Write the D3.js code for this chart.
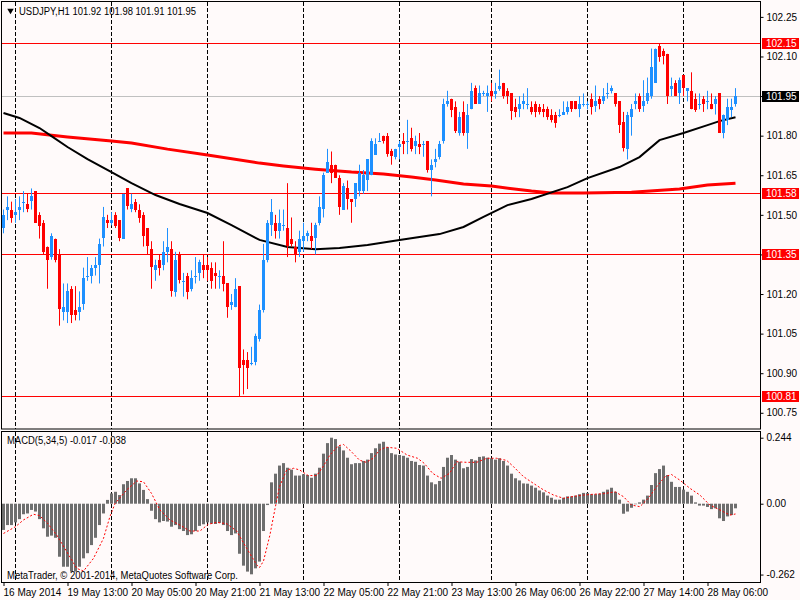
<!DOCTYPE html>
<html>
<head>
<meta charset="utf-8">
<script src="https://cdn.jsdelivr.net/npm/d3@7"></script>
<style>
  body { margin: 0; background: #fffafa; }
  svg { display: block; font-family: "Liberation Sans", Arial, sans-serif; font-size: 10px; }
</style>
</head>
<body>
<script>
// USDJPY H1 candles (bar 0 = 16 May 2014, last bar = 28 May 13:00)
const opens = [101.45,101.52,101.52,101.50,101.52,101.55,101.54,101.55,101.59,101.50,
  101.47,101.38,101.34,101.41,101.35,101.13,101.13,101.22,101.14,101.13,
  101.16,101.27,101.27,101.30,101.31,101.41,101.48,101.47,101.50,101.48,
  101.41,101.60,101.52,101.55,101.52,101.50,101.45,101.37,101.29,101.33,
  101.31,101.36,101.37,101.21,101.35,101.25,101.27,101.22,101.27,101.28,
  101.31,101.31,101.30,101.28,101.27,101.27,101.24,101.16,101.15,101.23,
  100.95,100.95,100.94,100.94,101.03,101.14,101.33,101.46,101.47,101.44,
  101.46,101.45,101.41,101.38,101.36,101.40,101.42,101.42,101.41,101.47,
  101.52,101.66,101.69,101.69,101.64,101.52,101.60,101.56,101.56,101.59,
  101.59,101.63,101.65,101.73,101.78,101.80,101.80,101.74,101.72,101.76,
  101.78,101.78,101.79,101.76,101.77,101.77,101.78,101.67,101.70,101.72,
  101.78,101.92,101.94,101.91,101.81,101.89,101.81,101.90,101.98,101.92,
  101.96,101.95,101.97,101.96,101.98,102.00,101.97,101.96,101.91,101.90,
  101.92,101.92,101.91,101.92,101.91,101.90,101.90,101.88,101.88,101.88,
  101.88,101.89,101.93,101.93,101.90,101.92,101.92,101.94,101.91,101.94,
  101.93,101.96,101.97,101.96,101.93,101.85,101.75,101.87,101.92,101.95,
  101.91,101.93,101.95,102.00,102.14,102.12,102.11,101.98,102.00,101.96,
  102.03,101.97,101.97,101.94,101.92,101.94,101.93,101.92,101.92,101.96,
  101.81,101.86,101.90,101.92];
const highs = [101.52,101.57,101.55,101.56,101.57,101.59,101.58,101.60,101.59,101.51,
  101.48,101.38,101.43,101.41,101.37,101.24,101.24,101.23,101.23,101.21,
  101.30,101.34,101.31,101.34,101.41,101.53,101.50,101.51,101.51,101.48,
  101.58,101.60,101.58,101.56,101.54,101.51,101.45,101.40,101.33,101.35,
  101.40,101.45,101.40,101.36,101.36,101.28,101.28,101.29,101.34,101.33,
  101.35,101.34,101.32,101.32,101.29,101.40,101.24,101.20,101.26,101.23,
  100.99,100.98,101.00,101.05,101.16,101.39,101.48,101.56,101.50,101.52,
  101.52,101.62,101.49,101.40,101.44,101.47,101.44,101.47,101.47,101.57,
  101.66,101.75,101.74,101.69,101.65,101.62,101.63,101.56,101.62,101.69,
  101.67,101.71,101.79,101.79,101.81,101.80,101.81,101.75,101.75,101.78,
  101.81,101.86,101.83,101.80,101.81,101.78,101.78,101.71,101.75,101.78,
  101.94,101.97,101.94,101.93,101.89,101.93,101.92,102.00,101.99,101.99,
  101.97,101.99,102.00,102.00,102.05,102.00,101.98,101.96,101.94,101.95,
  101.96,101.98,101.93,101.93,101.92,101.92,101.91,101.90,101.89,101.90,
  101.93,101.93,101.93,101.93,101.95,101.96,101.93,101.96,101.99,101.95,
  101.98,102.00,101.99,101.96,101.93,101.89,101.89,101.92,101.96,101.96,
  102.01,102.02,102.13,102.13,102.15,102.13,102.11,102.02,102.01,102.02,
  102.03,101.98,102.04,101.96,101.96,101.95,101.97,101.96,101.95,101.96,
  101.88,101.94,101.94,101.98];
const lows = [101.43,101.48,101.47,101.47,101.48,101.51,101.51,101.52,101.47,101.41,
  101.35,101.22,101.33,101.32,101.08,101.10,101.09,101.09,101.10,101.10,
  101.14,101.25,101.24,101.27,101.24,101.38,101.45,101.46,101.45,101.40,
  101.41,101.52,101.51,101.51,101.47,101.38,101.35,101.22,101.25,101.27,
  101.29,101.32,101.19,101.19,101.24,101.19,101.18,101.21,101.24,101.25,
  101.26,101.25,101.22,101.22,101.22,101.21,101.11,101.14,101.15,100.81,
  100.82,100.84,100.93,100.93,101.02,101.13,101.32,101.42,101.41,101.41,
  101.44,101.34,101.38,101.32,101.34,101.36,101.40,101.37,101.35,101.46,
  101.49,101.66,101.62,101.64,101.50,101.52,101.52,101.47,101.53,101.57,
  101.58,101.59,101.65,101.73,101.78,101.77,101.72,101.69,101.71,101.71,
  101.73,101.73,101.74,101.73,101.73,101.72,101.66,101.57,101.68,101.71,
  101.77,101.91,101.87,101.81,101.80,101.80,101.75,101.90,101.92,101.92,
  101.95,101.89,101.93,101.94,101.97,101.94,101.92,101.86,101.87,101.87,
  101.90,101.90,101.88,101.87,101.88,101.87,101.86,101.85,101.83,101.87,
  101.88,101.88,101.89,101.90,101.87,101.91,101.90,101.88,101.89,101.90,
  101.92,101.94,101.96,101.91,101.81,101.74,101.71,101.80,101.90,101.89,
  101.89,101.92,101.94,102.00,102.08,102.07,101.92,101.95,101.95,101.92,
  101.95,101.93,101.90,101.89,101.90,101.89,101.90,101.90,101.88,101.81,
  101.79,101.84,101.87,101.91];
const closes = [101.50,101.53,101.49,101.51,101.53,101.55,101.52,101.57,101.47,101.46,
  101.36,101.33,101.42,101.33,101.14,101.15,101.21,101.12,101.12,101.15,
  101.26,101.27,101.30,101.31,101.39,101.49,101.47,101.48,101.46,101.41,
  101.58,101.53,101.54,101.52,101.49,101.42,101.38,101.30,101.31,101.30,
  101.36,101.38,101.21,101.33,101.25,101.25,101.21,101.26,101.27,101.32,
  101.29,101.29,101.25,101.27,101.27,101.24,101.15,101.17,101.22,100.92,
  100.93,100.92,100.94,101.04,101.14,101.33,101.47,101.51,101.44,101.47,
  101.46,101.38,101.39,101.35,101.41,101.42,101.43,101.40,101.46,101.53,
  101.65,101.70,101.66,101.64,101.53,101.61,101.56,101.55,101.62,101.66,
  101.65,101.71,101.78,101.77,101.78,101.78,101.73,101.72,101.75,101.77,
  101.77,101.78,101.75,101.78,101.76,101.77,101.67,101.69,101.71,101.77,
  101.92,101.93,101.90,101.82,101.87,101.81,101.88,101.97,101.92,101.96,
  101.96,101.96,101.95,101.97,101.99,101.95,101.95,101.89,101.89,101.92,
  101.93,101.92,101.89,101.89,101.89,101.89,101.87,101.86,101.85,101.88,
  101.89,101.91,101.90,101.90,101.92,101.92,101.92,101.91,101.93,101.92,
  101.95,101.96,101.98,101.92,101.84,101.75,101.88,101.90,101.93,101.90,
  101.93,101.96,102.06,102.13,102.10,102.10,101.95,101.99,101.95,102.01,
  101.98,101.98,101.90,101.90,101.92,101.92,101.93,101.90,101.94,101.81,
  101.88,101.91,101.91,101.95];

// moving averages, sampled along the drawn lines (bar index, price)
const blackMaIdx = [0,4,9,12,16,21,27,32,38,44,51,57,64,71,78,84,91,99,109,115,120,126,132,141,146,154,159,164,170,176,179,183];
const blackMaVal = [101.886,101.867,101.829,101.798,101.757,101.711,101.662,101.620,101.575,101.541,101.507,101.461,101.405,101.378,101.370,101.374,101.386,101.405,101.427,101.454,101.492,101.537,101.560,101.605,101.639,101.681,101.719,101.783,101.810,101.840,101.855,101.870];
const redMaIdx = [0,7,16,27,32,41,51,64,70,78,87,95,102,108,115,122,132,137,145,157,169,176,183];
const redMaVal = [101.810,101.810,101.795,101.780,101.772,101.749,101.727,101.696,101.685,101.673,101.662,101.655,101.643,101.632,101.617,101.609,101.590,101.583,101.583,101.586,101.598,101.613,101.620];

// MACD(5,34,5) main values (histogram), one per bar
const macdMain = [-0.097,-0.079,-0.079,-0.069,-0.057,-0.039,-0.036,-0.023,-0.029,-0.057,
  -0.091,-0.122,-0.118,-0.126,-0.196,-0.233,-0.233,-0.251,-0.251,-0.233,
  -0.202,-0.183,-0.153,-0.126,-0.079,-0.036,0.014,0.038,0.044,0.032,
  0.072,0.084,0.094,0.094,0.075,0.051,0.017,-0.026,-0.057,-0.069,
  -0.064,-0.066,-0.085,-0.079,-0.094,-0.101,-0.116,-0.113,-0.101,-0.082,
  -0.076,-0.069,-0.074,-0.075,-0.071,-0.079,-0.101,-0.116,-0.110,-0.185,
  -0.229,-0.251,-0.261,-0.239,-0.214,-0.101,-0.005,0.079,0.111,0.141,
  0.150,0.133,0.126,0.104,0.104,0.109,0.106,0.096,0.111,0.133,
  0.185,0.224,0.244,0.239,0.212,0.197,0.170,0.146,0.150,0.150,
  0.158,0.163,0.187,0.205,0.222,0.229,0.209,0.187,0.182,0.180,
  0.177,0.170,0.158,0.155,0.143,0.141,0.104,0.079,0.072,0.084,
  0.136,0.170,0.180,0.163,0.155,0.131,0.136,0.165,0.160,0.173,
  0.175,0.170,0.168,0.163,0.168,0.158,0.141,0.111,0.094,0.086,
  0.075,0.074,0.067,0.059,0.049,0.042,0.030,0.022,0.015,0.015,
  0.022,0.027,0.027,0.030,0.035,0.040,0.040,0.035,0.035,0.037,
  0.044,0.052,0.059,0.044,0.015,-0.037,-0.029,-0.015,-0.002,0.005,
  0.015,0.030,0.069,0.113,0.128,0.141,0.106,0.081,0.062,0.062,
  0.052,0.044,0.030,0.005,-0.007,-0.007,-0.012,-0.020,-0.017,-0.054,
  -0.064,-0.047,-0.042,-0.017];
// signal line, sampled along the dotted line
const signalIdx = [0,3,5,7.5,9,11,13.3,15.8,18.3,20,22.5,25,26.6,27.9,30.8,33.3,35,37,39.1,41.6,44.1,46.6,49.1,51.2,53.3,55.8,58.3,60.8,63.3,64,65,66.6,67.9,69,70.8,72.5,74,76.2,78.3,79.9,81.6,83.7,85,86.6,89,90.7,92.4,94,95.6,98.3,100.9,103.5,105.2,107.3,109.4,111.5,113.3,115.8,118.3,120.8,123.3,125.8,127.5,130,132.5,135,137.5,140,142.5,145,147.5,150,152.9,155,157,159.1,161.2,163.3,165.4,167,169.1,171.6,174.1,176.6,179.1,181.6,183];
const signalVal = [-0.110,-0.085,-0.060,-0.039,-0.044,-0.072,-0.116,-0.177,-0.239,-0.249,-0.202,-0.128,-0.048,0.001,0.051,0.084,0.081,0.038,-0.023,-0.060,-0.079,-0.101,-0.101,-0.076,-0.069,-0.074,-0.101,-0.165,-0.226,-0.236,-0.212,-0.116,-0.017,0.063,0.125,0.131,0.125,0.104,0.104,0.137,0.180,0.214,0.219,0.198,0.161,0.153,0.168,0.198,0.209,0.205,0.180,0.168,0.149,0.112,0.094,0.112,0.155,0.153,0.153,0.168,0.168,0.160,0.137,0.100,0.075,0.051,0.032,0.020,0.027,0.032,0.035,0.037,0.044,0.026,-0.005,-0.011,0.020,0.063,0.100,0.108,0.087,0.057,0.032,-0.005,-0.023,-0.042,-0.038];

const priceTicks = [102.25,102.10,101.95,101.80,101.65,101.50,101.35,101.20,101.05,100.90,100.75];
const levelLines = [102.15,101.58,101.35,100.81];
const bidPrice = 101.95;
const macdTicks = [0.244,0,-0.262];
const macdTickText = ["0.244","0.00","-0.262"];
const timeIdx = [0,16,32,48,64,80,96,112,128,144,160,176];
const timeLabels = ["16 May 2014","19 May 13:00","20 May 05:00","20 May 21:00","21 May 13:00","22 May 05:00",
  "22 May 21:00","23 May 13:00","26 May 06:00","26 May 22:00","27 May 14:00","28 May 06:00"];
const daySeparators = [3,27,51,75,99,122,146,170];

const width = 800, height = 600;
const left = 2, right = 760;
const pTop = 2, pBottom = 429;
const mTop = 432, mBottom = 582.5;
const axisFont = '10px';

const svg = d3.select('body').append('svg')
  .attr('width', width).attr('height', height)
  .style('background', '#fffafa');

const xScale = d3.scaleLinear().domain([0, 183]).range([3.5, 735.5]);
const yPrice = d3.scaleLinear().domain([100.6886, 102.3064]).range([pBottom, pTop]);
const yMacd = d3.scaleLinear().domain([-0.2913, 0.2651]).range([mBottom, mTop]);
const crisp = v => Math.round(v - 0.5) + 0.5;

// day separators
[[pTop, pBottom], [mTop, mBottom]].forEach(([t, b]) => {
  svg.append('g').selectAll('line')
    .data(daySeparators).enter().append('line')
    .attr('x1', d => xScale(d)).attr('x2', d => xScale(d))
    .attr('y1', t).attr('y2', b)
    .attr('stroke', '#000').attr('stroke-width', 1)
    .attr('stroke-dasharray', '4,2');
});

// bid line and level lines
svg.append('line')
  .attr('x1', left).attr('x2', right)
  .attr('y1', crisp(yPrice(bidPrice))).attr('y2', crisp(yPrice(bidPrice)))
  .attr('stroke', '#c0c0c0');

svg.append('g').selectAll('line')
  .data(levelLines).enter().append('line')
  .attr('x1', left).attr('x2', right)
  .attr('y1', d => crisp(yPrice(d))).attr('y2', d => crisp(yPrice(d)))
  .attr('stroke', '#ff0000');

// moving averages
const maLine = (idx, vals) => d3.line()
  .x((d, i) => xScale(idx[i]))
  .y(d => yPrice(d))(vals);

svg.append('path')
  .attr('d', maLine(redMaIdx, redMaVal))
  .attr('fill', 'none').attr('stroke', '#ff0000').attr('stroke-width', 3);

svg.append('path')
  .attr('d', maLine(blackMaIdx, blackMaVal))
  .attr('fill', 'none').attr('stroke', '#000').attr('stroke-width', 2);

// candles
const bars = d3.range(opens.length);
const colorOf = i => closes[i] >= opens[i] ? '#1e90ff' : '#ff0000';

svg.append('g').selectAll('line')
  .data(bars).enter().append('line')
  .attr('x1', i => xScale(i)).attr('x2', i => xScale(i))
  .attr('y1', i => yPrice(highs[i])).attr('y2', i => yPrice(lows[i]))
  .attr('stroke', colorOf).attr('stroke-width', 1);

svg.append('g').selectAll('rect')
  .data(bars).enter().append('rect')
  .attr('x', i => xScale(i) - 1.5)
  .attr('width', 3)
  .attr('y', i => Math.round(yPrice(Math.max(opens[i], closes[i]))))
  .attr('height', i => Math.max(1, Math.round(Math.abs(yPrice(opens[i]) - yPrice(closes[i])))))
  .attr('fill', colorOf);

// MACD histogram
svg.append('g').selectAll('rect')
  .data(macdMain).enter().append('rect')
  .attr('x', (d, i) => xScale(i) - 1.5)
  .attr('width', 3)
  .attr('y', d => Math.min(yMacd(d), yMacd(0)))
  .attr('height', d => Math.abs(yMacd(d) - yMacd(0)))
  .attr('fill', '#6e6e6e');

svg.append('path')
  .attr('d', d3.line().x((d, i) => xScale(signalIdx[i])).y(d => yMacd(d))(signalVal))
  .attr('fill', 'none').attr('stroke', '#ff0000').attr('stroke-width', 1)
  .attr('stroke-dasharray', '2,2');

// panel frames
[[pTop, pBottom], [mTop, mBottom]].forEach(([t, b]) => {
  svg.append('rect')
    .attr('x', left - 0.5).attr('y', t - 0.5)
    .attr('width', right - left + 1).attr('height', b - t + 0.5)
    .attr('fill', 'none').attr('stroke', '#000').attr('stroke-width', 1);
});

// axes
const priceAxis = d3.axisRight(yPrice).tickValues(priceTicks).tickSize(3).tickPadding(3)
  .tickFormat(d3.format('.2f'));
const gp = svg.append('g').attr('transform', `translate(${right + 0.5},0)`).call(priceAxis);

const macdAxis = d3.axisRight(yMacd).tickValues(macdTicks).tickSize(3).tickPadding(3)
  .tickFormat((d, i) => macdTickText[i]);
const gm = svg.append('g').attr('transform', `translate(${right + 0.5},0)`).call(macdAxis);

const timeAxis = d3.axisBottom(xScale).tickValues(timeIdx).tickSize(3).tickPadding(3)
  .tickFormat((d, i) => timeLabels[i]);
const gt = svg.append('g').attr('transform', `translate(0,${mBottom + 0.5})`).call(timeAxis);
gt.selectAll('text').attr('text-anchor', 'start').attr('dx', '-0.5');

[gp, gm, gt].forEach(g => {
  g.select('.domain').remove();
  g.selectAll('line').attr('stroke', '#000');
  g.selectAll('text').attr('fill', '#000')
    .style('font-family', '"Liberation Sans", Arial, sans-serif').style('font-size', axisFont);
});

// price labels on the axis
const tagData = levelLines.map(v => ({ v, bg: '#ff0000' })).concat([{ v: bidPrice, bg: '#000' }]);
const tags = svg.append('g').selectAll('g')
  .data(tagData).enter().append('g')
  .attr('transform', d => `translate(${right + 2},${crisp(yPrice(d.v))})`);
tags.append('rect')
  .attr('x', 0).attr('y', -5.5).attr('width', 37).attr('height', 11)
  .attr('fill', d => d.bg);
tags.append('text')
  .attr('x', 4).attr('y', 0).attr('dy', '0.35em')
  .attr('fill', '#fff').style('font-size', axisFont)
  .text(d => d3.format('.2f')(d.v));

// texts
svg.append('path')
  .attr('d', d3.symbol().type(d3.symbolTriangle).size(18)())
  .attr('transform', 'translate(10.5,10.5) rotate(180)')
  .attr('fill', '#000');

svg.append('text')
  .attr('x', 19).attr('y', 11).attr('dy', '0.35em').attr('fill', '#000')
  .attr('textLength', 177).attr('lengthAdjust', 'spacingAndGlyphs')
  .text('USDJPY,H1  101.92 101.98 101.91 101.95');

svg.append('text')
  .attr('x', 7).attr('y', 440).attr('dy', '0.35em').attr('fill', '#000')
  .attr('textLength', 119).attr('lengthAdjust', 'spacingAndGlyphs')
  .text('MACD(5,34,5) -0.017 -0.038');

svg.append('text')
  .attr('x', 7).attr('y', 575).attr('dy', '0.35em').attr('fill', '#000')
  .attr('textLength', 231).attr('lengthAdjust', 'spacingAndGlyphs')
  .text('MetaTrader, © 2001-2014, MetaQuotes Software Corp.');
</script>
</body>
</html>
